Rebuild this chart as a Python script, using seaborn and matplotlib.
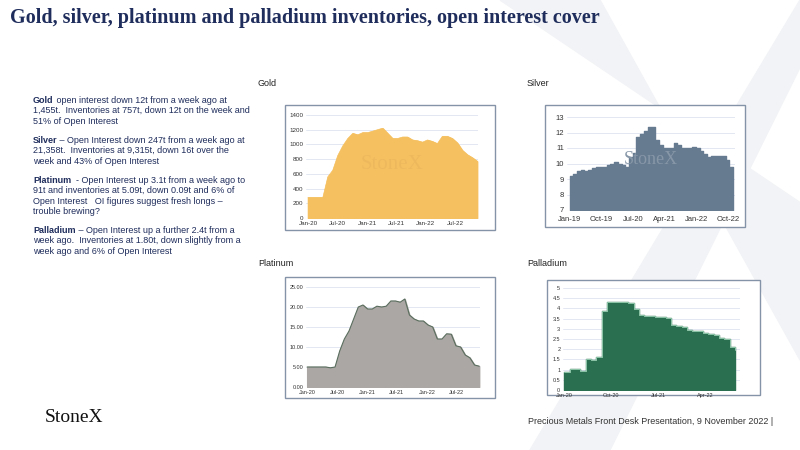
import numpy as np
import pandas as pd
import matplotlib
matplotlib.use("Agg")
import matplotlib.pyplot as plt
import matplotlib.dates as mdates
import seaborn as sns

sns.set_theme(style="white")
plt.rcParams['font.family'] = ['Liberation Sans', 'DejaVu Sans']

gold_vals = [280, 280, 280, 280, 560, 650, 850, 980, 1080, 1150, 1130, 1160, 1160, 1180,
             1200, 1220, 1150, 1080, 1080, 1100, 1100, 1060, 1050, 1030, 1060, 1040, 1010,
             1110, 1110, 1080, 1020, 920, 860, 820, 770]
silver_vals = [9.2, 9.3, 9.5, 9.6, 9.5, 9.6, 9.7, 9.75, 9.8, 9.8, 9.9, 10.0, 10.1, 10.0, 9.9,
               9.8, 10.4, 10.7, 11.7, 11.9, 12.1, 12.35, 12.35, 11.5, 11.2, 11.0, 11.0, 11.0,
               11.3, 11.2, 11.0, 11.0, 11.0, 11.05, 11.0, 10.8, 10.6, 10.4, 10.5, 10.5, 10.5,
               10.5, 10.2, 9.8, 9.3]
plat_vals = [5, 5, 5, 5, 5, 4.8, 5, 9, 12, 14, 17, 20, 20.5, 19.5, 19.5, 20.2, 20, 20.2,
             21.5, 21.5, 21.2, 22, 18, 17, 16.5, 16.5, 15.5, 15, 12, 12, 13.3, 13.2, 10.3,
             10, 8, 7.3, 5.5, 5.2]
pall_vals = [0.9, 1.05, 1.05, 0.92, 1.5, 1.45, 1.6, 3.85, 4.3, 4.3, 4.3, 4.3, 4.25, 3.95, 3.7,
             3.65, 3.65, 3.6, 3.6, 3.55, 3.2, 3.15, 3.1, 2.95, 2.9, 2.9, 2.8, 2.75, 2.7, 2.55,
             2.5, 2.1, 1.95]

gold = pd.DataFrame({"date": pd.date_range("2020-01-01", "2022-11-15", periods=len(gold_vals)), "v": gold_vals})
silver = pd.DataFrame({"date": pd.date_range("2019-01-01", "2022-11-15", periods=len(silver_vals)), "v": silver_vals})
plat = pd.DataFrame({"date": pd.date_range("2020-01-01", "2022-11-15", periods=len(plat_vals)), "v": plat_vals})
pall = pd.DataFrame({"date": pd.date_range("2020-01-01", "2022-09-20", periods=len(pall_vals)), "v": pall_vals})

fig = plt.figure(figsize=(8, 4.5), dpi=100)
W, H = 800, 450

# faint watermark X
wm = "#f2f3f6"
fig.patches.append(plt.Polygon([(500/W, 1), (600/W, 1), (800/W, 0.2), (800/W, 0.55)], closed=True,
                               transform=fig.transFigure, color=wm, zorder=0))
fig.patches.append(plt.Polygon([(800/W, 1), (800/W, 0.85), (610/W, 0), (530/W, 0)], closed=True,
                               transform=fig.transFigure, color=wm, zorder=0))


def frame(x0, y0, x1, y1):
    fig.patches.append(plt.Rectangle((x0/W, 1-y1/H), (x1-x0)/W, (y1-y0)/H, transform=fig.transFigure,
                                     fill=True, facecolor="white", edgecolor="#8593a8", lw=1, zorder=1))


def axes(x0, y0, x1, y1):
    return fig.add_axes([x0/W, 1-y1/H, (x1-x0)/W, (y1-y0)/H], zorder=2)


def style(ax, fs):
    ax.set_facecolor("none")
    for s in ax.spines.values():
        s.set_visible(False)
    ax.grid(axis="y", color="#dde3f0", lw=0.6)
    ax.tick_params(labelsize=fs, colors="#333333", length=0, pad=2)
    ax.set_xlabel("")
    ax.set_ylabel("")


frame(285, 105, 495, 230)
ax = axes(306, 115, 478, 218)
sns.lineplot(data=gold, x="date", y="v", ax=ax, color="#f5c060", lw=0.5)
ax.fill_between(gold["date"], gold["v"], color="#f5c060")
ax.set_ylim(0, 1400)
ax.set_yticks(range(0, 1401, 200))
ax.set_xlim(pd.Timestamp("2019-12-20"), pd.Timestamp("2022-11-20"))
ax.xaxis.set_major_locator(mdates.MonthLocator(bymonth=[1, 7]))
ax.xaxis.set_major_formatter(mdates.DateFormatter("%b-%y"))
style(ax, 4.5)
ax.text(0.5, 0.48, "StoneX", transform=ax.transAxes, ha="center", fontsize=15, family="Liberation Serif",
        color="#e8b45a", alpha=0.6)

frame(545, 105, 745, 227)
ax = axes(567, 117, 735, 210)
ax.fill_between(silver["date"], silver["v"], 7, step="post", color="#667b90")
sns.lineplot(data=silver, x="date", y="v", ax=ax, color="#667b90", lw=0.5, drawstyle="steps-post")
ax.set_ylim(7, 13)
ax.set_yticks(range(7, 14))
ax.set_xlim(pd.Timestamp("2018-12-10"), pd.Timestamp("2022-12-01"))
ax.set_xticks(pd.date_range("2019-01-01", "2022-10-01", freq="9MS"))
ax.xaxis.set_major_formatter(mdates.DateFormatter("%b-%y"))
style(ax, 5.5)
ax.tick_params(axis="x", pad=4)
ax.text(0.5, 0.5, "StoneX", transform=ax.transAxes, ha="center", fontsize=13, family="Liberation Serif",
        color="#8797a8")

frame(285, 277, 495, 398)
ax = axes(306, 287, 480, 387)
ax.fill_between(plat["date"], plat["v"], color="#aba7a4")
sns.lineplot(data=plat, x="date", y="v", ax=ax, color="#5a6e5e", lw=0.8)
ax.set_ylim(0, 25)
ax.set_yticks(np.arange(0, 26, 5))
ax.yaxis.set_major_formatter(matplotlib.ticker.FormatStrFormatter("%.2f"))
ax.set_xlim(pd.Timestamp("2019-12-25"), pd.Timestamp("2022-11-20"))
ax.xaxis.set_major_locator(mdates.MonthLocator(bymonth=[1, 7]))
ax.xaxis.set_major_formatter(mdates.DateFormatter("%b-%y"))
style(ax, 4)

frame(547, 280, 760, 395)
ax = axes(563, 288, 740, 390)
ax.fill_between(pall["date"], pall["v"], step="post", color="#2a7050")
sns.lineplot(data=pall, x="date", y="v", ax=ax, color="#9fd4b8", lw=0.6, drawstyle="steps-post")
ax.set_ylim(0, 5)
ax.set_yticks(np.arange(0, 5.01, 0.5))
ax.yaxis.set_major_formatter(matplotlib.ticker.FuncFormatter(lambda v, p: f"{v:g}"))
ax.set_xlim(pd.Timestamp("2019-12-25"), pd.Timestamp("2022-10-20"))
ax.set_xticks(pd.date_range("2020-01-01", "2022-04-01", freq="9MS"))
ax.xaxis.set_major_formatter(mdates.DateFormatter("%b-%y"))
style(ax, 4)

# texts
fig.text(10/W, 1-18/H, "Gold, silver, platinum and palladium inventories, open interest cover",
         fontsize=14.5, weight="bold", family="Liberation Serif", color="#1f2d5c", va="center")
for x, y, t in [(258, 83, "Gold"), (527, 83, "Silver"), (258, 264, "Platinum"), (527, 264, "Palladium")]:
    fig.text(x/W, 1-y/H, t, fontsize=6.5, color="#222222", va="center")

paras = [
    (96, "Gold", " open interest down 12t from a week ago at",
     "1,455t.  Inventories at 757t, down 12t on the week and\n51% of Open Interest"),
    (136, "Silver", " \u2013 Open Interest down 247t from a week ago at",
     "21,358t.  Inventories at 9,315t, down 16t over the\nweek and 43% of Open Interest"),
    (176, "Platinum", "  - Open Interest up 3.1t from a week ago to",
     "91t and inventories at 5.09t, down 0.09t and 6% of\nOpen Interest   OI figures suggest fresh longs \u2013\ntrouble brewing?"),
    (226, "Palladium", " \u2013 Open Interest up a further 2.4t from a",
     "week ago.  Inventories at 1.80t, down slightly from a\nweek ago and 6% of Open Interest"),
]
renderer = fig.canvas.get_renderer()
lh = 10
for y, head, first, rest in paras:
    t = fig.text(33/W, 1-y/H, head, fontsize=6.5, weight="bold", color="#1f2d5c", va="top")
    bb = t.get_window_extent(renderer)
    fig.text(bb.x1/W, 1-y/H, first, fontsize=6.5, color="#1f2d5c", va="top")
    fig.text(33/W, 1-(y+lh)/H, rest, fontsize=6.5, color="#1f2d5c", va="top", linespacing=1.25)

fig.text(45/W, 1-418/H, "StoneX", fontsize=14, family="Liberation Serif", color="#111111", va="center")
fig.text(528/W, 1-422/H, "Precious Metals Front Desk Presentation, 9 November 2022 |", fontsize=6.5,
         color="#333333", va="center")

fig.savefig("out.png", dpi=100)
